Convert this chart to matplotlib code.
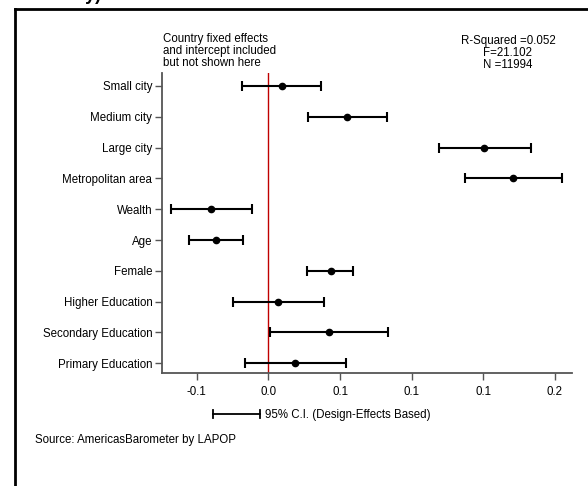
import matplotlib
matplotlib.use("Agg")
import matplotlib.pyplot as plt
from matplotlib.lines import Line2D
import numpy as np

plt.rcParams['font.family'] = ['Liberation Sans', 'DejaVu Sans']

categories = ["Small city", "Medium city", "Large city", "Metropolitan area",
              "Wealth", "Age", "Female", "Higher Education",
              "Secondary Education", "Primary Education"]
coef = [0.0093, 0.0551, 0.1508, 0.1710, -0.0401, -0.0368, 0.0435, 0.0069, 0.0423, 0.0186]
ci_low = [-0.0182, 0.0274, 0.1189, 0.1373, -0.0682, -0.0554, 0.0272, -0.0249, 0.0011, -0.0163]
ci_high = [0.0367, 0.0826, 0.1834, 0.2052, -0.0112, -0.0175, 0.0589, 0.0388, 0.0837, 0.0540]
xticks = [-0.05, 0.0, 0.05, 0.10, 0.15, 0.20]
stats_text = "R-Squared =0.052\nF=21.102\nN =11994"
note_text = "Country fixed effects\nand intercept included\nbut not shown here"
legend_text = "95% C.I. (Design-Effects Based)"
source_text = "Source: AmericasBarometer by LAPOP"

FS = 8.3
W, H = 588, 486
fig = plt.figure(figsize=(W / 100, H / 100), dpi=100)

def fx(px):
    return px / W

def fy(py):
    return 1 - py / H

ax = fig.add_axes([fx(162), fy(373.3), fx(572) - fx(162), fy(73) - fy(373.3)])

n = len(categories)
ypos = np.arange(n)[::-1]
coef = np.array(coef)
lo = coef - np.array(ci_low)
hi = np.array(ci_high) - coef
ax.errorbar(coef, ypos, xerr=[lo, hi], fmt='o', color='black', ms=4.5,
            elinewidth=1.5, capsize=3.5, capthick=1.5, zorder=3)
ax.axvline(0, color='#c00000', lw=1.0, zorder=2)

ax.set_xlim(-0.0743, 0.212)
ax.set_ylim(-0.325, n - 1 + 0.42)
ax.set_yticks(ypos)
ax.set_yticklabels(categories, fontsize=FS)
ax.set_xticks(xticks)
ax.set_xticklabels(["%.1f" % v for v in xticks], fontsize=FS)
for s in ['top', 'right']:
    ax.spines[s].set_visible(False)
for s in ['left', 'bottom']:
    ax.spines[s].set_color('#555555')
    ax.spines[s].set_linewidth(1.3)
ax.tick_params(axis='both', colors='#555555', labelcolor='black', width=1.0, length=5)
ax.tick_params(axis='x', pad=4.5)
ax.tick_params(axis='y', pad=2)

# annotations
fig.text(fx(163), fy(33), note_text, fontsize=FS, ha='left', va='top', linespacing=0.98)
fig.text(fx(508), fy(35), stats_text, fontsize=FS, ha='center', va='top', linespacing=0.98)

# legend
fig.add_artist(Line2D([fx(213), fx(260)], [fy(414), fy(414)], color='black', lw=1.3))
for xp in (213, 260):
    fig.add_artist(Line2D([fx(xp), fx(xp)], [fy(410), fy(418)], color='black', lw=1.3))
fig.text(fx(265), fy(414.5), legend_text, fontsize=FS, ha='left', va='center')
fig.text(fx(35), fy(439.5), source_text, fontsize=FS, ha='left', va='center')

# frame
fig.add_artist(Line2D([fx(15), fx(15)], [fy(9), 0], color='black', lw=2))
fig.add_artist(Line2D([fx(15), 1], [fy(9), fy(9)], color='black', lw=2))

# clipped title at the top (only its lower edge is visible in the reference)
fig.text(fx(101), fy(0.5), "Size of city)", fontsize=13, fontweight='bold', ha='right', va='baseline')

fig.savefig("out.png", dpi=100)
